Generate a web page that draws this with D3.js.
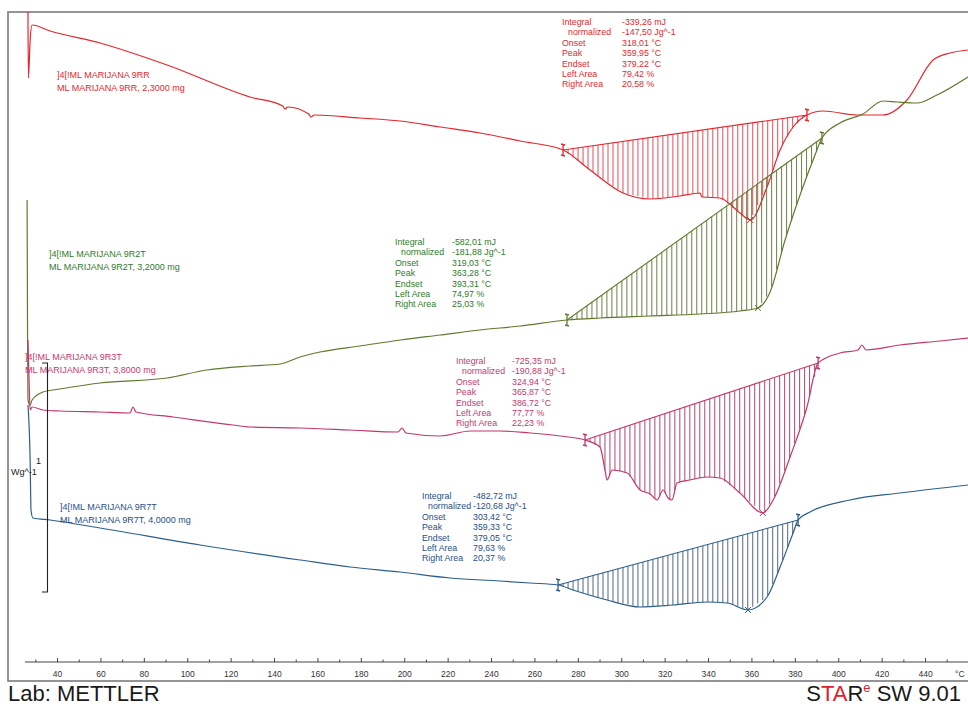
<!DOCTYPE html>
<html><head><meta charset="utf-8">
<script src="https://cdn.jsdelivr.net/npm/d3@7"></script>
<style>
html,body{margin:0;padding:0;background:#fff;}
svg{display:block;}
text{font-family:"Liberation Sans",Arial,sans-serif;}
</style></head>
<body>
<svg id="c" width="968" height="706"></svg>
<script>
// ---------- DATA (temperature °C, heat flow in arbitrary units, curves offset) ----------
const xTicksMajor = [40,60,80,100,120,140,160,180,200,220,240,260,280,300,320,340,360,380,400,420,440];
const xTicksMinor = [30,50,70,90,110,130,150,170,190,210,230,250,270,290,310,330,350,370,390,410,430,450];

const curve9RR = [[26.6,64.7],[26.8,58.1],[27.6,61.9],[28.5,63.4],[36.8,62.8],[59.8,61.6],[90.7,59.4],[128.9,56.2],[144.0,55.3],[145.1,55.0],[146.3,55.2],[156.0,54.5],[157.0,54.2],[158.5,54.4],[179.6,54.1],[198.1,53.8],[216.5,53.2],[234.9,52.6],[253.4,51.8],[273.2,50.9],[285.6,48.9],[300.8,46.6],[313.3,46.0],[327.1,46.3],[336.3,46.6],[337.2,46.2],[345.5,46.1],[354.7,44.6],[359.4,43.9],[367.2,47.2],[373.2,50.9],[379.2,53.2],[385.6,54.4],[393.0,54.8],[408.7,54.4],[420.6,54.4],[431.7,55.9],[443.7,59.9],[451.5,60.6],[459.8,60.9]];
const curve9R2T = [[26.2,45.9],[26.4,32.9],[26.6,25.9],[27.6,25.4],[28.5,25.9],[33.5,26.7],[41.4,27.0],[59.8,27.6],[90.7,28.1],[109.1,28.9],[128.9,29.3],[142.8,29.5],[152.0,30.2],[161.2,30.7],[179.6,31.3],[198.1,31.9],[216.5,32.4],[234.9,32.9],[253.4,33.3],[275.0,33.9],[290.2,34.1],[313.3,34.3],[336.3,34.5],[354.7,34.8],[363.0,35.1],[368.6,36.7],[375.5,41.9],[382.4,46.4],[389.3,50.4],[392.5,52.1],[400.8,53.6],[411.4,54.5],[420.6,55.8],[427.1,55.7],[436.3,55.6],[445.5,56.4],[459.8,58.2]];
const curve9R3T = [[26.6,31.9],[27.1,27.9],[27.6,24.9],[28.5,25.2],[33.5,24.9],[41.4,24.8],[59.8,24.7],[73.6,24.6],[75.0,25.2],[76.4,24.7],[93.5,24.2],[121.1,23.4],[128.9,23.2],[152.0,23.1],[175.0,22.9],[197.1,22.7],[199.0,23.1],[200.8,22.6],[216.5,22.3],[230.4,22.8],[244.1,22.8],[258.0,22.6],[271.8,22.3],[283.3,21.9],[290.2,21.2],[292.5,18.9],[293.5,17.9],[295.8,18.9],[302.7,18.6],[308.7,16.9],[313.3,16.5],[316.5,15.9],[319.3,16.9],[321.6,16.1],[323.4,15.9],[325.7,17.6],[331.7,17.9],[339.5,18.2],[345.5,18.1],[354.7,16.6],[365.3,14.6],[370.0,15.9],[377.8,20.2],[385.6,25.2],[390.7,29.6],[400.8,30.6],[409.1,30.9],[410.9,31.4],[412.8,30.9],[428.5,31.4],[446.9,31.8],[459.8,32.1]];
const curve9R7T = [[26.6,25.4],[27.6,19.9],[28.0,14.9],[28.9,14.1],[36.8,13.9],[59.8,13.1],[105.9,11.4],[152.0,9.9],[175.0,9.2],[198.1,8.7],[221.1,8.1],[244.1,7.8],[258.0,7.6],[270.9,7.4],[277.8,6.9],[293.5,5.9],[308.7,5.2],[323.9,5.4],[339.5,5.7],[348.8,5.6],[358.4,4.9],[367.2,6.2],[373.2,9.2],[379.2,12.6],[381.5,13.9],[387.0,14.7],[405.4,15.9],[428.5,16.6],[459.8,17.4]];

// integration limits [startT, endT] and peak T
const limits9RR  = [273.2, 385.6, 359.4];
const limits9R2T = [275.0, 392.5, 363.0];
const limits9R3T = [283.3, 390.7, 365.3];
const limits9R7T = [270.9, 381.5, 358.4];

const sampleNames = [["]4[!ML MARIJANA 9RR","ML MARIJANA 9RR, 2,3000 mg"],
                     ["]4[!ML MARIJANA 9R2T","ML MARIJANA 9R2T, 3,2000 mg"],
                     ["]4[!ML MARIJANA 9R3T","ML MARIJANA 9R3T, 3,8000 mg"],
                     ["]4[!ML MARIJANA 9R7T","ML MARIJANA 9R7T, 4,0000 mg"]];
const resultLabels = ["Integral","normalized","Onset","Peak","Endset","Left Area","Right Area"];
const results9RR  = ["-339,26 mJ","-147,50 Jg^-1","318,01 °C","359,95 °C","379,22 °C","79,42 %","20,58 %"];
const results9R2T = ["-582,01 mJ","-181,88 Jg^-1","319,03 °C","363,28 °C","393,31 °C","74,97 %","25,03 %"];
const results9R3T = ["-725,35 mJ","-190,88 Jg^-1","324,94 °C","365,87 °C","386,72 °C","77,77 %","22,23 %"];
const results9R7T = ["-482,72 mJ","-120,68 Jg^-1","303,42 °C","359,33 °C","379,05 °C","79,63 %","20,37 %"];
const scaleBar = {value: 22.9, label: "1", unit: "Wg^-1", base: 6.7};

// ---------- LAYOUT ----------
const svg = d3.select("#c");
const x = d3.scaleLinear().domain([17.4, 459.8]).range([8, 968]);
const y = d3.scaleLinear().domain([0, 64.7]).range([659, 12]);

// frame
svg.append("rect").attr("x",8).attr("y",12).attr("width",975).attr("height",669)
  .attr("fill","none").attr("stroke","#7a7a7a").attr("stroke-width",1.6);

// axis
const axY = 662;
svg.append("line").attr("x1",25).attr("x2",968).attr("y1",axY).attr("y2",axY).attr("stroke","#444").attr("stroke-width",1);
const ax = svg.append("g").attr("transform",`translate(0,${axY})`)
  .call(d3.axisBottom(x).tickValues(xTicksMajor).tickSize(-4).tickPadding(9).tickFormat(d3.format("d")));
ax.select(".domain").remove();
ax.selectAll("line").attr("stroke","#444");
ax.selectAll("text").attr("font-size","8.5px").attr("fill","#333").attr("font-family","Liberation Sans, Arial, sans-serif");
const axm = svg.append("g").attr("transform",`translate(0,${axY})`)
  .call(d3.axisBottom(x).tickValues(xTicksMinor).tickSize(-2.5).tickFormat(""));
axm.select(".domain").remove();
axm.selectAll("line").attr("stroke","#444");
svg.append("text").attr("x",955).attr("y",677).attr("font-size","8.5px").attr("fill","#333").text("°C");

// series
const series = [
  {data:curve9RR, lim:limits9RR, res:results9RR, name:sampleNames[0], col:"#e4262e", hatch:"#e0303a", txt:"#de2a2f", labelPos:[57,78], resPos:[562,622,25]},
  {data:curve9R2T, lim:limits9R2T, res:results9R2T, name:sampleNames[1], col:"#5f7a2c", hatch:"#4f6e22", txt:"#2f7a2a", labelPos:[49,257], resPos:[395,452,245]},
  {data:curve9R3T, lim:limits9R3T, res:results9R3T, name:sampleNames[2], col:"#c5376b", hatch:"#a8284f", txt:"#c23a6e", labelPos:[25,360], resPos:[456,512,364]},
  {data:curve9R7T, lim:limits9R7T, res:results9R7T, name:sampleNames[3], col:"#2c5e8c", hatch:"#34506a", txt:"#1f4f82", labelPos:[60,510], resPos:[422,473,499]}
];

const line = d3.line().x(d=>x(d[0])).y(d=>y(d[1])).curve(d3.curveMonotoneX);
function interp(data, t){
  for(let i=1;i<data.length;i++){
    if(data[i][0]>=t){
      const a=data[i-1], b=data[i];
      const f=(t-a[0])/((b[0]-a[0])||1);
      return a[1]+f*(b[1]-a[1]);
    }
  }
  return data[data.length-1][1];
}

series.forEach(s=>{
  const g = svg.append("g");
  const [t0,t1,tp] = s.lim;
  const v0 = interp(s.data,t0), v1 = interp(s.data,t1);
  // hatching
  const step = 2.3;
  for(let t=t0+step; t<t1-0.3; t+=step){
    const vb = v0 + (t-t0)/(t1-t0)*(v1-v0);
    const vc = interp(s.data,t);
    g.append("line").attr("x1",x(t)).attr("x2",x(t)).attr("y1",y(vb)).attr("y2",y(vc))
      .attr("stroke",s.hatch).attr("stroke-width",1).attr("opacity",0.85);
  }
  // baseline
  g.append("line").attr("x1",x(t0)).attr("y1",y(v0)).attr("x2",x(t1)).attr("y2",y(v1))
    .attr("stroke",s.col).attr("stroke-width",1.1);
  // curve
  g.append("path").attr("d",line(s.data)).attr("fill","none").attr("stroke",s.col).attr("stroke-width",1.2);
  // limit markers
  [[t0,v0],[t1,v1]].forEach(([t,v])=>{
    const px=x(t), py=y(v);
    g.append("path").attr("d",`M${px},${py-6}L${px},${py+6}M${px-2},${py-6}L${px+2},${py-5}M${px-2},${py+5}L${px+2},${py+6}`)
      .attr("stroke",s.col).attr("stroke-width",1.3).attr("fill","none");
  });
  // peak marker
  const pxp=x(tp), pyp=y(interp(s.data,tp));
  g.append("path").attr("d",`M${pxp-3},${pyp-3}L${pxp+3},${pyp+3}M${pxp-3},${pyp+3}L${pxp+3},${pyp-3}`)
    .attr("stroke",s.col).attr("stroke-width",1);
  // sample label
  const lt = svg.append("text").attr("x",s.labelPos[0]).attr("y",s.labelPos[1]).attr("font-size","9px").attr("fill",s.txt);
  lt.append("tspan").attr("x",s.labelPos[0]).attr("dy",0).text(s.name[0]);
  lt.append("tspan").attr("x",s.labelPos[0]).attr("dy",12.5).text(s.name[1]);
  // results block
  const rg = svg.append("g").attr("font-size","8.8px").attr("fill",s.txt);
  resultLabels.forEach((lab,i)=>{
    rg.append("text").attr("x",s.resPos[0]+(i===1?6:0)).attr("y",s.resPos[2]+i*10.4).text(lab);
    rg.append("text").attr("x",s.resPos[1]).attr("y",s.resPos[2]+i*10.4).text(s.res[i]);
  });
});

// scale bar
const sbTop = y(scaleBar.base+scaleBar.value), sbBot = y(scaleBar.base);
svg.append("path").attr("d",`M42,${sbTop}L47.5,${sbTop}L47.5,${sbBot}L42,${sbBot}`)
  .attr("fill","none").attr("stroke","#222").attr("stroke-width",1.1);
svg.append("text").attr("x",36).attr("y",(sbTop+sbBot)/2-14).attr("font-size","9px").attr("fill","#222").text(scaleBar.label);
svg.append("text").attr("x",11).attr("y",(sbTop+sbBot)/2-3).attr("font-size","9px").attr("fill","#222").text(scaleBar.unit);

// footer
svg.append("text").attr("x",8).attr("y",701).attr("font-size","22px").attr("fill","#1a1a1a").text("Lab: METTLER");
const ft = svg.append("text").attr("x",961).attr("y",701).attr("text-anchor","end").attr("font-size","22px").attr("fill","#1a1a1a");
ft.append("tspan").text("S");
ft.append("tspan").attr("fill","#e0202a").text("TA");
ft.append("tspan").text("R");
ft.append("tspan").attr("fill","#e0202a").attr("font-size","13px").attr("dy",-9).text("e");
ft.append("tspan").attr("dy",9).text(" SW 9.01");
</script>
</body></html>
